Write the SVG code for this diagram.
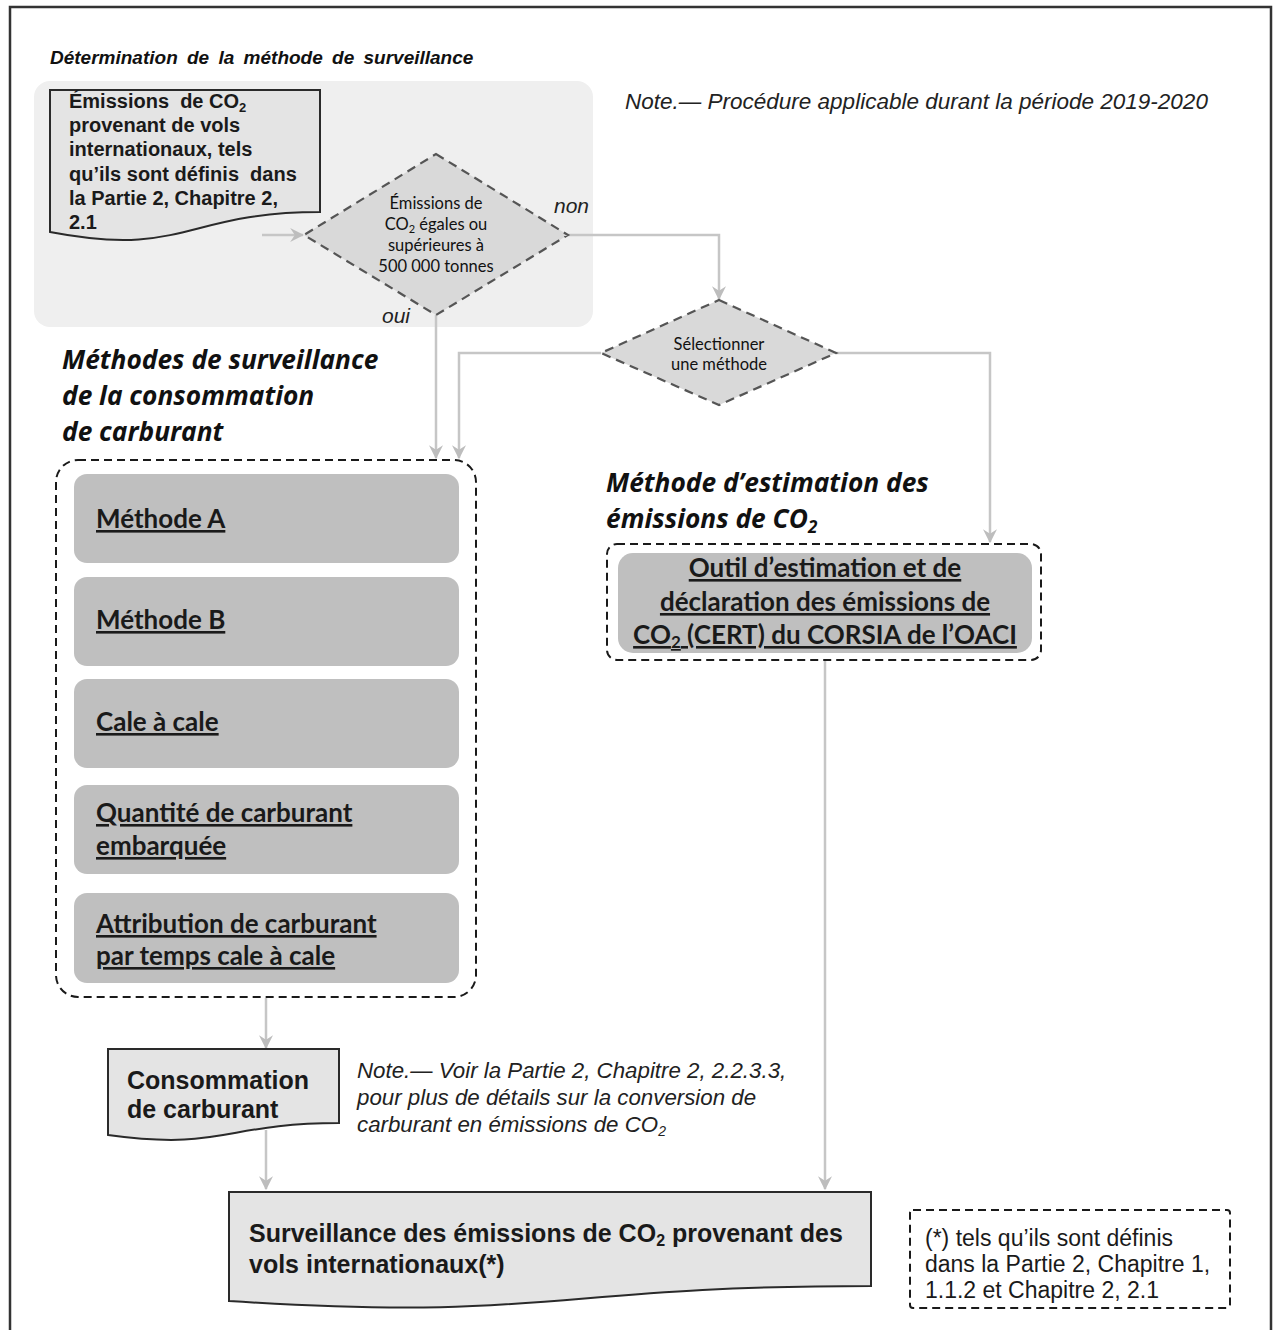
<svg xmlns="http://www.w3.org/2000/svg" width="1273" height="1330" viewBox="0 0 1273 1330">
  <style>
    .arial { font-family: "Liberation Sans", Arial, sans-serif; }
    .cal { font-family: Lato, "Open Sans", sans-serif; }
    .head { font-family: "Open Sans", Lato, sans-serif; font-weight: bold; font-style: italic; font-size: 26.3px; fill: #111; }
    .doc { fill: #e4e4e4; stroke: #2a2a2a; stroke-width: 2; }
    .dia { fill: #d9d9d9; stroke: #555; stroke-width: 2.2; stroke-dasharray: 9 6; }
    .grp { fill: none; stroke: #1a1a1a; stroke-width: 2; stroke-dasharray: 8 5; }
    .meth { fill: #bfbfbf; }
    .conn { fill: none; stroke: #c6c6c6; stroke-width: 2.5; marker-end: url(#arr); }
    .mt { font-family: Lato, "Open Sans", sans-serif; font-weight: bold; font-size: 26px; fill: #1a1a1a; text-decoration: underline; }
  </style>
  <defs>
    <marker id="arr" viewBox="0 0 12 12" refX="11" refY="6" markerWidth="14" markerHeight="14" markerUnits="userSpaceOnUse" orient="auto">
      <path d="M0,0 L12,6 L0,12 L4,6 Z" fill="#bdbdbd"/>
    </marker>
  </defs>

  <rect width="1273" height="1330" fill="#fff"/>
  <!-- page frame -->
  <path d="M10,1330 V7 H1271 V1330" fill="none" stroke="#333" stroke-width="2.5"/>

  <!-- section title and period note -->
  <text class="arial" x="50" y="64" font-size="19" font-weight="bold" font-style="italic" word-spacing="4" fill="#111">Détermination de la méthode de surveillance</text>
  <text class="arial" x="625" y="109" font-size="22.5" font-style="italic" fill="#222">Note.— Procédure applicable durant la période 2019-2020</text>

  <!-- shaded determination zone -->
  <rect x="34" y="81" width="559" height="246" rx="16" fill="#efefef"/>

  <!-- connectors -->
  <g id="connectors">
    <path class="conn" d="M262,235 H303"/>
    <path class="conn" d="M568,235 H719 V299"/>
    <path class="conn" d="M436,315 V458"/>
    <path class="conn" d="M601,353 H459 V458"/>
    <path class="conn" d="M835,353 H990 V542"/>
    <path class="conn" d="M266,998 V1048"/>
    <path class="conn" d="M266,1130 V1189"/>
    <path class="conn" d="M825,661 V1189"/>
  </g>

  <!-- input document -->
  <g id="input-emissions">
    <path class="doc" d="M50,90 H320 V212 C185,212 185,258 50,232 Z"/>
    <text class="arial" x="69" font-size="20" font-weight="bold" fill="#1a1a1a">
      <tspan x="69" y="108" xml:space="preserve">Émissions  de CO<tspan font-size="13" dy="4">2</tspan></tspan>
      <tspan x="69" y="132">provenant de vols</tspan>
      <tspan x="69" y="156">internationaux, tels</tspan>
      <tspan x="69" y="181" xml:space="preserve">qu’ils sont définis  dans</tspan>
      <tspan x="69" y="205">la Partie 2, Chapitre 2,</tspan>
      <tspan x="69" y="229">2.1</tspan>
    </text>
  </g>

  <!-- threshold decision -->
  <g id="decision-threshold">
    <polygon class="dia" points="436,154 568,235 436,315 304,235"/>
    <text class="cal" font-size="16.5" text-anchor="middle" fill="#111"><tspan x="436" y="209">Émissions de</tspan><tspan x="436" y="230">CO<tspan font-size="11" dy="3">2</tspan><tspan dy="-3"> égales ou</tspan></tspan><tspan x="436" y="251">supérieures à</tspan><tspan x="436" y="272">500 000 tonnes</tspan></text>
    <text class="arial" x="554" y="213" font-size="21" font-style="italic" fill="#222">non</text>
    <text class="arial" x="382" y="323" font-size="21" font-style="italic" fill="#222">oui</text>
  </g>

  <!-- method selection decision -->
  <g id="decision-select">
    <polygon class="dia" points="719,300 836,353 719,405 601,353"/>
    <text class="cal" font-size="16.5" text-anchor="middle" fill="#111"><tspan x="719" y="350">Sélectionner</tspan><tspan x="719" y="370">une méthode</tspan></text>
  </g>

  <!-- fuel use monitoring methods -->
  <g id="fuel-methods">
    <text class="head"><tspan x="62" y="369">Méthodes de surveillance</tspan><tspan x="62" y="405">de la consommation</tspan><tspan x="62" y="441">de carburant</tspan></text>
    <rect class="grp" x="56" y="460" width="420" height="537" rx="22"/>
    <g id="method-a">
      <rect class="meth" x="74" y="474" width="385" height="89" rx="13"/>
      <text class="mt" x="96" y="528">Méthode A</text>
    </g>
    <g id="method-b">
      <rect class="meth" x="74" y="577" width="385" height="89" rx="13"/>
      <text class="mt" x="96" y="629">Méthode B</text>
    </g>
    <g id="block-off-block-on">
      <rect class="meth" x="74" y="679" width="385" height="89" rx="13"/>
      <text class="mt" x="96" y="731">Cale à cale</text>
    </g>
    <g id="fuel-uplift">
      <rect class="meth" x="74" y="785" width="385" height="89" rx="13"/>
      <text class="mt"><tspan x="96" y="822">Quantité de carburant</tspan><tspan x="96" y="855">embarquée</tspan></text>
    </g>
    <g id="block-hour-allocation">
      <rect class="meth" x="74" y="893" width="385" height="90" rx="13"/>
      <text class="mt"><tspan x="96" y="933">Attribution de carburant</tspan><tspan x="96" y="965">par temps cale à cale</tspan></text>
    </g>
  </g>

  <!-- CO2 estimation method -->
  <g id="estimation-method">
    <text class="head"><tspan x="606" y="492">Méthode d’estimation des</tspan><tspan x="606" y="528">émissions de CO<tspan font-size="17" dy="5">2</tspan></tspan></text>
    <rect class="grp" x="607" y="544" width="434" height="116" rx="10"/>
    <rect class="meth" x="618" y="553" width="414" height="100" rx="15"/>
    <text class="mt" font-size="25" text-anchor="middle"><tspan x="825" y="577">Outil d’estimation et de</tspan><tspan x="825" y="611">déclaration des émissions de</tspan><tspan x="825" y="644">CO<tspan font-size="17" dy="4">2</tspan><tspan dy="-4"> (CERT) du CORSIA de l’OACI</tspan></tspan></text>
  </g>

  <!-- fuel consumption document -->
  <g id="fuel-consumption">
    <path class="doc" d="M108,1049 H339 V1123 C224,1123 224,1151 108,1135 Z"/>
    <text class="arial" font-size="25" font-weight="bold" fill="#1a1a1a"><tspan x="127" y="1089">Consommation</tspan><tspan x="127" y="1118">de carburant</tspan></text>
  </g>

  <!-- conversion note -->
  <text class="arial" font-size="22.3" font-style="italic" fill="#222"><tspan x="357" y="1078">Note.— Voir la Partie 2, Chapitre 2, 2.2.3.3,</tspan><tspan x="357" y="1105">pour plus de détails sur la conversion de</tspan><tspan x="357" y="1132">carburant en émissions de CO<tspan font-size="14" dy="4">2</tspan></tspan></text>

  <!-- monitoring output document -->
  <g id="monitoring-output">
    <path class="doc" d="M229,1192 H871 V1286 C550,1286 550,1322 229,1301 Z"/>
    <text class="arial" font-size="25" font-weight="bold" fill="#1a1a1a"><tspan x="249" y="1242">Surveillance des émissions de CO<tspan font-size="16" dy="4">2</tspan><tspan dy="-4"> provenant des</tspan></tspan><tspan x="249" y="1273">vols internationaux(*)</tspan></text>
  </g>

  <!-- footnote -->
  <g id="footnote">
    <rect class="grp" x="910" y="1210" width="320" height="98" rx="3"/>
    <text class="arial" font-size="23" fill="#1a1a1a"><tspan x="925" y="1246">(*) tels qu’ils sont définis</tspan><tspan x="925" y="1272">dans la Partie 2, Chapitre 1,</tspan><tspan x="925" y="1298">1.1.2 et Chapitre 2, 2.1</tspan></text>
  </g>
</svg>
